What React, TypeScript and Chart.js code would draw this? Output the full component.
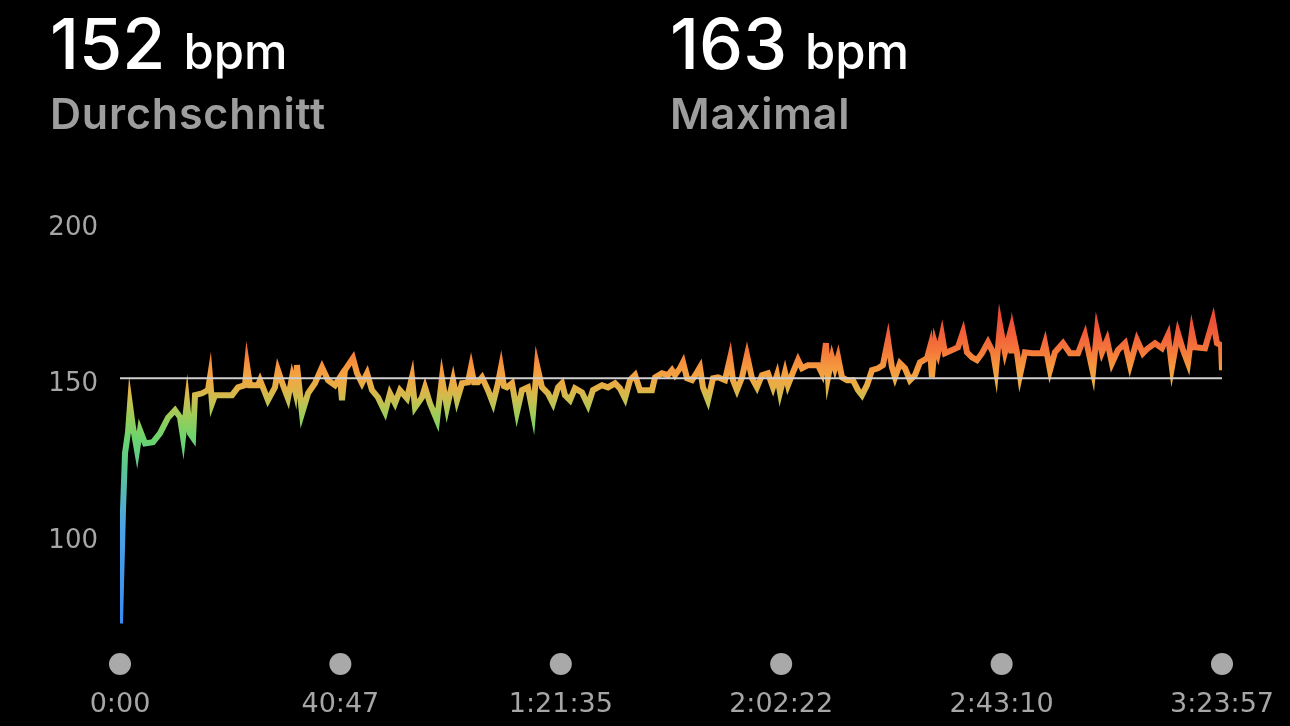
import { useEffect, useRef } from 'react';
import { Chart, registerables } from 'chart.js';

Chart.register(...registerables);

// ---- data ----
const timeSeconds = [
  0, 33, 56, 89, 111, 144, 189, 222, 278, 366, 444, 533, 611, 666, 700, 744, 777, 811, 833, 911,
  977, 999, 1022, 1055, 1244, 1310, 1388, 1410, 1444, 1532, 1555, 1643, 1721, 1754, 1810, 1865, 1910, 1943, 1965, 2021,
  2088, 2165, 2243, 2310, 2387, 2443, 2465, 2498, 2587, 2632, 2687, 2743, 2798, 2865, 2943, 2998, 3054, 3109, 3187, 3242,
  3276, 3353, 3387, 3442, 3520, 3575, 3631, 3698, 3742, 3798, 3864, 3898, 3931, 3975, 4020, 4086, 4142, 4197, 4231, 4264,
  4297, 4353, 4408, 4464, 4530, 4586, 4630, 4686, 4752, 4808, 4864, 4908, 4941, 4997, 5052, 5130, 5197, 5252, 5352, 5419,
  5497, 5552, 5608, 5663, 5719, 5774, 5907, 5941, 6018, 6085, 6129, 6163, 6218, 6252, 6296, 6352, 6407, 6440, 6474, 6529,
  6585, 6640, 6718, 6774, 6807, 6851, 6907, 6962, 7018, 7073, 7129, 7195, 7251, 7295, 7329, 7384, 7417, 7473, 7529, 7573,
  7640, 7751, 7795, 7839, 7862, 7906, 7939, 7973, 8017, 8073, 8139, 8195, 8239, 8295, 8350, 8417, 8472, 8528, 8572, 8606,
  8661, 8717, 8772, 8828, 8883, 8961, 8994, 9016, 9050, 9083, 9127, 9161, 9239, 9305, 9361, 9405, 9461, 9516, 9572, 9638,
  9694, 9727, 9772, 9827, 9883, 9899, 9916, 9960, 9994, 10049, 10127, 10238, 10271, 10327, 10382, 10471, 10549, 10638, 10715, 10804,
  10849, 10904, 10960, 11015, 11082, 11160, 11215, 11293, 11359, 11415, 11493, 11570, 11637, 11681, 11748, 11804, 11859, 11903, 11937, 12048,
  12137, 12181, 12226, 12237,
];

const heartRate = [
  73.7, 109.8, 128.1, 134.8, 143.4, 136.4, 129, 135.4, 131.2, 131.6, 134.4, 139.4, 141.8, 139.6, 133.2, 144.3, 134.4, 133, 146.6, 147.2,
  148.2, 152.3, 144, 146.6, 146.6, 149.1, 149.8, 156.2, 149.8, 149.8, 151.4, 145, 149.1, 154.6, 149.8, 145.6, 152.3, 148.2, 156.2, 140.8,
  147.2, 150.4, 155.5, 151.4, 149.8, 152.3, 145, 154.6, 158.4, 153.6, 150.4, 153.6, 148.2, 145.9, 141.2, 147.2, 144, 148.2, 145.6, 152.3,
  142.7, 145.9, 149.1, 144, 138.6, 152, 142.7, 151.4, 145, 150.4, 150.7, 155.5, 150.7, 150.7, 152.3, 148.2, 144, 150.4, 155.5, 149.5,
  149.1, 150.4, 141.2, 148.2, 149.1, 140.8, 156.2, 149.1, 147.2, 144, 149.1, 150.4, 146.6, 145, 148.8, 147.5, 143.4, 148.2, 149.8, 149.1,
  150.4, 148.8, 145.6, 151.4, 153, 148.2, 148.2, 152.3, 153.6, 153, 154.6, 153, 155.2, 157.1, 152, 151.4, 153.9, 155.5, 149.1, 145,
  152, 152.3, 151.4, 158.4, 151.4, 148.2, 152.3, 159.4, 152, 149.1, 153, 153.6, 149.1, 153, 147.5, 153.9, 149.8, 153.9, 157.8, 155.2,
  156.2, 156.2, 153.6, 163.2, 152.3, 158.7, 155.2, 158.7, 152.3, 151.4, 151.4, 148.2, 146.6, 149.8, 154.6, 155.2, 156.2, 164.2, 155.5, 152.3,
  156.8, 155.2, 151.4, 153, 157.1, 158.4, 161.9, 152.3, 163.2, 160, 165.8, 160, 161, 161.9, 166.7, 160.3, 158.7, 157.8, 160, 163.5,
  160.3, 154.6, 168.9, 160.3, 166.4, 160, 166.4, 160.3, 153, 160.3, 160, 160, 163.2, 154.6, 160.3, 163.2, 160, 160, 165.8, 153.9,
  167.3, 160.3, 164.2, 156.8, 161, 163.2, 156.2, 164.2, 160, 161.6, 163.2, 161.6, 165.8, 155.5, 166.4, 161, 156.8, 166.7, 161.9, 161.6,
  170.5, 163.2, 162.6, 154.6,
];

const averageBpm = 152;
const maxBpm = 163;
const durationSeconds = 12237;

const yTickValues = [100, 150, 200];
const xTickSeconds = [0, 2447, 4895, 7342, 9790, 12237];
const xTickLabels = ['0:00', '40:47', '1:21:35', '2:02:22', '2:43:10', '3:23:57'];

// colour by heart-rate value
const colourStopBpm = [74, 105, 124, 133, 140, 145, 149, 152, 156, 160, 165, 171];
const colourStopHex = ['#3a8cf2', '#4aa4e4', '#5cc88e', '#6cd46c', '#9ccc58', '#c8c050', '#e4b046', '#f2a642', '#f5963e', '#f57c3a', '#f2643a', '#ec4c36'];

const Y_MIN = 70;
const Y_MAX = 200;

const timeDotsPlugin = {
  id: 'timeDots',
  afterDraw(chart: any) {
    const { ctx, scales, chartArea } = chart;
    const x = scales.x;
    ctx.save();
    ctx.fillStyle = '#a9a9a9';
    x.ticks.forEach((t: any) => {
      ctx.beginPath();
      ctx.arc(x.getPixelForValue(t.value), chartArea.bottom + 29, 11, 0, Math.PI * 2);
      ctx.fill();
    });
    ctx.restore();
  },
};

function hrGradient(context: any) {
  const chart = context.chart;
  const { ctx, chartArea, scales } = chart;
  if (!chartArea) return '#f2a642';
  const top = scales.y.getPixelForValue(Y_MAX);
  const bottom = scales.y.getPixelForValue(Y_MIN);
  const g = ctx.createLinearGradient(0, bottom, 0, top);
  colourStopBpm.forEach((v, i) => {
    const p = Math.min(1, Math.max(0, (v - Y_MIN) / (Y_MAX - Y_MIN)));
    g.addColorStop(p, colourStopHex[i]);
  });
  return g;
}

export default function App() {
  const canvasRef = useRef<HTMLCanvasElement | null>(null);

  useEffect(() => {
    document.body.style.background = '#000';
    const canvas = canvasRef.current;
    if (!canvas) return;
    const chart = new Chart(canvas, {
      type: 'line',
      data: {
        datasets: [
          {
            label: 'Durchschnitt',
            data: [
              { x: 0, y: averageBpm },
              { x: durationSeconds, y: averageBpm },
            ],
            borderColor: '#cfcfcf',
            borderWidth: 2,
            pointRadius: 0,
            order: 0,
          },
          {
            label: 'Herzfrequenz',
            data: timeSeconds.map((t, i) => ({ x: t, y: heartRate[i] })),
            borderColor: hrGradient,
            borderWidth: 6,
            pointRadius: 0,
            tension: 0,
            borderJoinStyle: 'miter',
            order: 1,
          },
        ],
      },
      options: {
        animation: false,
        responsive: false,
        maintainAspectRatio: false,
        layout: { padding: { top: 228, right: 68, left: 0, bottom: 0 } },
        plugins: { legend: { display: false }, tooltip: { enabled: false } },
        scales: {
          x: {
            type: 'linear',
            min: 0,
            max: durationSeconds,
            grid: { display: false, drawTicks: false },
            border: { display: false },
            afterBuildTicks: (s: any) => {
              s.ticks = xTickSeconds.map((v) => ({ value: v }));
            },
            afterFit: (s: any) => {
              s.height = 91;
              s.paddingLeft = 0;
              s.paddingRight = 0;
            },
            ticks: {
              autoSkip: false,
              maxRotation: 0,
              padding: 54,
              color: '#a6a6a6',
              font: { family: 'DejaVu Sans', size: 27 },
              callback: (_v: any, i: number) => xTickLabels[i],
            },
          },
          y: {
            min: Y_MIN,
            max: Y_MAX,
            grid: { display: false, drawTicks: false },
            border: { display: false },
            afterBuildTicks: (s: any) => {
              s.ticks = yTickValues.map((v) => ({ value: v }));
            },
            afterFit: (s: any) => {
              s.width = 120;
              s.paddingTop = 0;
              s.paddingBottom = 0;
            },
            ticks: {
              padding: 22,
              color: '#a6a6a6',
              font: { family: 'DejaVu Sans', size: 26 },
            },
          },
        },
      },
      plugins: [timeDotsPlugin],
    } as any);
    return () => chart.destroy();
  }, []);

  const big = { fontFamily: 'Inter, Roboto, sans-serif', fontSize: 70, fontWeight: 500, lineHeight: 1, color: '#fff' };
  const unit = { fontFamily: 'Inter, Roboto, sans-serif', fontSize: 49, fontWeight: 500, lineHeight: 1, color: '#fff', marginLeft: 18 };
  const sub = { fontFamily: 'Inter, Roboto, sans-serif', fontSize: 43, fontWeight: 600, lineHeight: 1, color: '#9d9d9d', letterSpacing: 0.8 };

  return (
    <div style={{ position: 'fixed', left: 0, top: 0, width: 1290, height: 726, background: '#000', overflow: 'hidden' }}>
      <canvas ref={canvasRef} width={1290} height={726} style={{ position: 'absolute', left: 0, top: 0, width: 1290, height: 726 }} />
      <div style={{ position: 'absolute', left: 50, top: 9, display: 'flex', alignItems: 'baseline' }}>
        <span style={big}>{averageBpm}</span>
        <span style={unit}>bpm</span>
      </div>
      <div style={{ position: 'absolute', left: 50, top: 92 }}>
        <span style={sub}>Durchschnitt</span>
      </div>
      <div style={{ position: 'absolute', left: 670, top: 9, display: 'flex', alignItems: 'baseline' }}>
        <span style={big}>{maxBpm}</span>
        <span style={unit}>bpm</span>
      </div>
      <div style={{ position: 'absolute', left: 670, top: 92 }}>
        <span style={sub}>Maximal</span>
      </div>
    </div>
  );
}
